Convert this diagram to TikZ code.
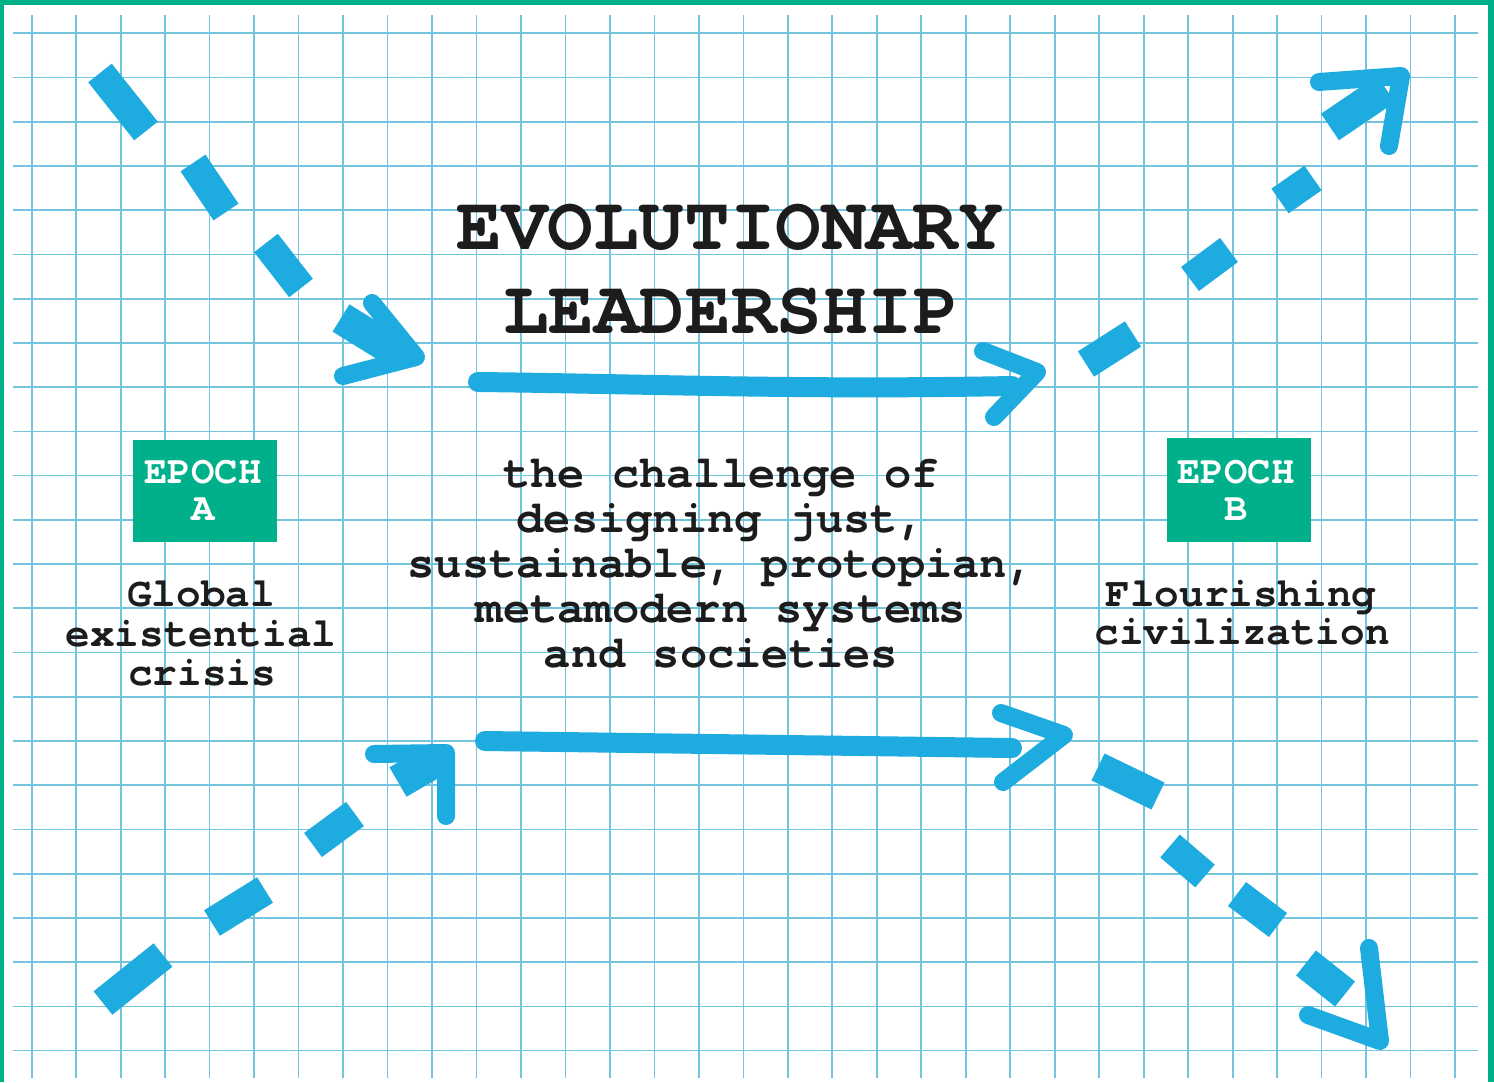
\documentclass[tikz,border=0pt]{standalone}
\usepackage{fontspec}
\setmainfont{TeX Gyre Cursor}
\definecolor{framegreen}{RGB}{0,176,136}
\definecolor{epochgreen}{RGB}{0,176,138}
\definecolor{gridc}{RGB}{115,196,222}
\definecolor{marker}{RGB}{30,172,224}
\definecolor{ink}{RGB}{28,28,28}
\begin{document}
\begin{tikzpicture}[x=0.5pt,y=-0.5pt,
  gridline/.style={draw=gridc, line width=0.85pt},
  dashmark/.style={draw=marker, line width=15pt, line cap=butt},
  shaft/.style={draw=marker, line width=10pt, line cap=round},
  arm/.style={draw=marker, line width=9pt, line cap=round, line join=round},
  titletext/.style={anchor=base, inner sep=0pt, text=ink, font=\fontsize{38}{42}\selectfont\bfseries},
  bodytext/.style={anchor=base, inner sep=0pt, text=ink, font=\fontsize{22.7}{26}\selectfont\bfseries},
  sidetext/.style={anchor=base, inner sep=0pt, text=ink, font=\fontsize{20.5}{24}\selectfont\bfseries},
  epochbox/.style={fill=epochgreen, draw=none, minimum width=72pt, minimum height=51pt, inner sep=0pt},
  epochtext/.style={anchor=base, inner sep=0pt, text=white, font=\fontsize{19.5}{22}\selectfont\bfseries}
]
\useasboundingbox (0,0) rectangle (1494,1082);
\fill[white] (0,0) rectangle (1494,1082);
% grid
\foreach \k in {0,...,32} \draw[gridline] ({31.7+44.48*\k},15) -- ({31.7+44.48*\k},1078);
\foreach \k in {0,...,23} \draw[gridline] (13,{33.3+44.23*\k}) -- (1478,{33.3+44.23*\k});
% frame
\fill[framegreen] (0,0) rectangle (1494,5);
\fill[framegreen] (0,0) rectangle (4,1082);
\fill[framegreen] (1488,0) rectangle (1494,1082);

% top-left dashed arrow
\draw[dashmark] (100,73) -- (146,131);
\draw[dashmark] (193,163) -- (226,212);
\draw[dashmark] (266,243) -- (301,288);
\draw[dashmark, line width=16pt] (341,318) -- (404,357);
\coordinate (tlTip) at (416,357);
\draw[arm] (372,303) -- (tlTip) -- (343,376);

% top horizontal arrow
\coordinate (thStart) at (478,382);
\coordinate (thEnd) at (1012,386);
\coordinate (thTip) at (1037,372);
\draw[shaft] (thStart) .. controls (650,384) and (800,390) .. (thEnd);
\draw[arm] (983,351) -- (thTip) -- (994,417);

% top-right dashed arrow
\draw[dashmark] (1086,364) -- (1133,334);
\draw[dashmark] (1190,279) -- (1229,250);
\draw[dashmark] (1280,201) -- (1313,178);
\draw[dashmark, line width=16pt] (1330,127) -- (1386,89);
\coordinate (trTip) at (1401,76);
\draw[arm] (1319,82) -- (trTip) -- (1389,146);

% bottom-left dashed arrow
\draw[dashmark] (103,1003) -- (163,955);
\draw[dashmark] (212,923) -- (265,890);
\draw[dashmark] (313,845) -- (355,814);
\draw[dashmark, line width=17pt] (398,782) -- (436,760);
\coordinate (blTip) at (446,753);
\draw[arm] (374,754) -- (blTip) -- (446,816);

% bottom horizontal arrow
\coordinate (bhStart) at (485,741);
\coordinate (bhEnd) at (1012,748);
\coordinate (bhTip) at (1064,735);
\draw[shaft] (bhStart) -- (bhEnd);
\draw[arm] (1001,713) -- (bhTip) -- (1003,782);

% bottom-right dashed arrow
\draw[dashmark] (1098,767) -- (1158,796);
\draw[dashmark] (1170,846) -- (1205,876);
\draw[dashmark] (1237,894) -- (1278,925);
\draw[dashmark, line width=16pt] (1306,963) -- (1345,994);
\coordinate (brTip) at (1380,1041);
\draw[arm] (1369,948) -- (brTip) -- (1308,1015);

% title
\node[titletext] (title1) at (730,249) {EVOLUTIONARY};
\node[titletext] (title2) at (731,333) {LEADERSHIP};

% centre text
\node[bodytext] (c1) at (721,487) {the challenge of};
\node[bodytext] (c2) at (721,532) {designing just,};
\node[bodytext] (c3) at (721,577) {sustainable, protopian,};
\node[bodytext] (c4) at (721,622) {metamodern systems};
\node[bodytext] (c5) at (721,667) {and societies};

% epoch A
\node[epochbox] (epochA) at (205,491) {};
\node[epochtext] (eaT1) at (203,483) {EPOCH};
\node[epochtext] (eaT2) at (203,520) {A};
\node[sidetext] (a1) at (201,606) {Global};
\node[sidetext] (a2) at (201,646) {existential};
\node[sidetext] (a3) at (202,685) {crisis};

% epoch B
\node[epochbox, minimum height=52pt] (epochB) at (1239,490) {};
\node[epochtext] (ebT1) at (1236,483) {EPOCH};
\node[epochtext] (ebT2) at (1236,520) {B};
\node[sidetext] (b1) at (1241,606) {Flourishing};
\node[sidetext] (b2) at (1242,644) {civilization};
\end{tikzpicture}
\end{document}
